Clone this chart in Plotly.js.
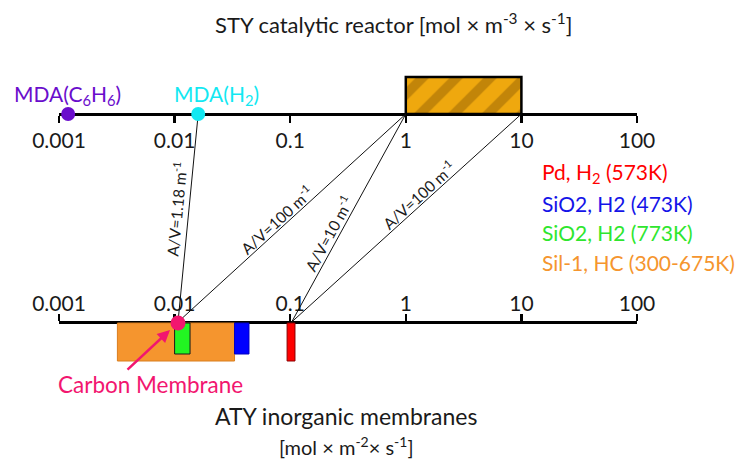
<!DOCTYPE html>
<html>
<head>
<meta charset="utf-8">
<script src="https://cdn.plot.ly/plotly-3.0.1.min.js"></script>
<style>
  html, body { margin: 0; padding: 0; background: #fff; }
  #chart { width: 739px; height: 459px; }
</style>
</head>
<body>
<div id="chart"></div>
<script>
// ---- data ----
const tickVals = [0.001, 0.01, 0.1, 1, 10, 100];
const tickText = ['0.001', '0.01', '0.1', '1', '10', '100'];

// space-time yield of the catalytic reactor [mol m^-3 s^-1]
const reactorSTY = [1, 10];

// MDA points on the STY scale
const mdaNames = ['MDA(C<sub>6</sub>H<sub>6</sub>)', 'MDA(H<sub>2</sub>)'];
const mdaSTY = [0.0012, 0.016];

// area-time yield ranges of inorganic membranes [mol m^-2 s^-1]
const membraneNames = ['Sil-1, HC (300-675K)', 'SiO2, H2 (773K)', 'SiO2, H2 (473K)', 'Pd, H<sub>2</sub> (573K)'];
const membraneLow = [0.0032, 0.010, 0.033, 0.094];
const membraneHigh = [0.033, 0.0136, 0.044, 0.110];

// carbon membrane point on the ATY scale
const carbonName = 'Carbon Membrane';
const carbonATY = 0.0107;

// STY = ATY x A/V connecting lines
const linkSTY = [0.016, 1, 1, 10];
const linkATY = [0.0107, 0.0107, 0.103, 0.103];
const linkAV = ['1.18', '100', '10', '100'];

// ---- layout geometry ----
const W = 739, H = 459;
const X0 = 59, X1 = 637;               // pixel extent of both log scales
const decadePx = (X1 - X0) / 5;
const yTop = 114, yBot = 322;          // rows of the two scales
const FONT = 'Lato, "Open Sans", sans-serif';

const membraneColors = ['#F5952E', '#22F522', '#0000FF', '#FF0000'];
const membraneText = ['#F5952E', '#2EE62E', '#1414E8', '#FF0000'];
const membraneLines = ['#D97E1E', '#1a1a1a', '#0000C0', '#8a0000'];
const membraneDepth = [39, 32, 32, 39];
const legendOrder = [3, 2, 1, 0];
const legendRows = [173, 203, 232, 262];
const mdaColors = ['#6A0DCC', '#12E8F2'];
const mdaShift = [-1, 18];
const labelAt = [0.54, 0.46, 0.40, 0.58];
const labelOff = [13, 9, 10, 9];

const traces = [];

// reactor STY range box
traces.push({
  x: [reactorSTY[0], reactorSTY[1], reactorSTY[1], reactorSTY[0], reactorSTY[0]],
  y: [yTop, yTop, yTop - 37, yTop - 37, yTop],
  xaxis: 'x', yaxis: 'y',
  mode: 'lines', fill: 'toself',
  fillcolor: '#E9A20C',
  fillpattern: { shape: '/', size: 24, solidity: 0.4, fgcolor: '#8C5A02', fgopacity: 0.45, bgcolor: '#EFA80E' },
  line: { color: '#000', width: 2.5 },
  hoverinfo: 'skip', showlegend: false
});

// membrane ATY ranges
membraneLow.forEach((lo, i) => {
  const hi = membraneHigh[i];
  const d = membraneDepth[i];
  traces.push({
    x: [lo, hi, hi, lo, lo],
    y: [yBot + 1, yBot + 1, yBot + d, yBot + d, yBot + 1],
    xaxis: 'x2', yaxis: 'y',
    mode: 'lines', fill: 'toself',
    fillcolor: membraneColors[i],
    line: { color: membraneLines[i], width: 1 },
    name: membraneNames[i], hoverinfo: 'name', showlegend: false
  });
});

// connecting lines STY <-> ATY
linkSTY.forEach((s, i) => {
  traces.push({
    x: [linkATY[i], s], y: [yBot, yTop],
    xaxis: 'x', yaxis: 'y',
    mode: 'lines', line: { color: '#111', width: 1 },
    hoverinfo: 'skip', showlegend: false
  });
});

// MDA points
traces.push({
  x: mdaSTY, y: mdaSTY.map(() => yTop),
  xaxis: 'x', yaxis: 'y',
  mode: 'markers', marker: { size: 14, color: mdaColors },
  text: mdaNames, hoverinfo: 'text', showlegend: false, cliponaxis: false
});

// carbon membrane point
traces.push({
  x: [carbonATY], y: [yBot + 1],
  xaxis: 'x2', yaxis: 'y',
  mode: 'markers', marker: { size: 15, color: '#F2166F' },
  name: carbonName, hoverinfo: 'name', showlegend: false, cliponaxis: false
});

const annotations = [];
const lg = v => Math.log10(v);

// titles
annotations.push({
  xref: 'paper', yref: 'y', x: 393 / W, y: 23, showarrow: false,
  text: 'STY catalytic reactor [mol \u00D7 m<sup>-3</sup> \u00D7 s<sup>-1</sup>]',
  font: { family: FONT, size: 22, color: '#1a1a1a' }
});
annotations.push({
  xref: 'paper', yref: 'y', x: 346 / W, y: 416, showarrow: false,
  text: 'ATY inorganic membranes',
  font: { family: FONT, size: 23, color: '#1a1a1a' }
});
annotations.push({
  xref: 'paper', yref: 'y', x: 346 / W, y: 446, showarrow: false,
  text: '[mol \u00D7 m<sup>-2</sup>\u00D7 s<sup>-1</sup>]',
  font: { family: FONT, size: 20, color: '#1a1a1a' }
});

// MDA labels
mdaNames.forEach((n, i) => {
  annotations.push({
    xref: 'x', yref: 'y', x: lg(mdaSTY[i]), y: 95, xshift: mdaShift[i],
    showarrow: false, text: n,
    font: { family: FONT, size: 21, color: mdaColors[i] }
  });
});

// membrane legend text
legendOrder.forEach((k, r) => {
  annotations.push({
    xref: 'paper', yref: 'y', x: 540 / W, y: legendRows[r], xanchor: 'left',
    showarrow: false, text: membraneNames[k],
    font: { family: FONT, size: 21, color: membraneText[k] }
  });
});

// A/V labels along the connecting lines
linkSTY.forEach((s, i) => {
  const la = lg(linkATY[i]), ls = lg(s);
  const dx = (ls - la) * decadePx, dy = yTop - yBot;
  const len = Math.hypot(dx, dy);
  const ang = Math.atan2(dy, dx) * 180 / Math.PI;
  const nx = dy / len, ny = -dx / len;   // normal pointing up-left
  const t = labelAt[i];
  annotations.push({
    xref: 'x', yref: 'y',
    x: la + t * (ls - la), y: yBot + t * (yTop - yBot),
    xshift: nx * labelOff[i], yshift: -ny * labelOff[i],
    textangle: ang, showarrow: false,
    text: 'A/V=' + linkAV[i] + ' m<sup>-1</sup>',
    font: { family: FONT, size: 15.5, color: '#1a1a1a' }
  });
});

// carbon membrane label and arrow
annotations.push({
  xref: 'x2', yref: 'y', x: lg(carbonATY), y: 384, xshift: -28,
  showarrow: false, text: carbonName,
  font: { family: FONT, size: 22.5, color: '#F2166F' }
});
annotations.push({
  xref: 'x2', yref: 'y', x: lg(carbonATY), y: 330, xshift: -8,
  axref: 'pixel', ayref: 'pixel', ax: -44, ay: 41,
  text: '', showarrow: true, arrowhead: 2, arrowsize: 1, arrowwidth: 2.5,
  arrowcolor: '#F2166F', standoff: 0, startstandoff: 0
});

const axisCommon = {
  type: 'log', range: [-3, 2], domain: [X0 / W, X1 / W],
  tickvals: tickVals, ticktext: tickText,
  ticks: 'outside', ticklen: 7, tickwidth: 2.5, tickcolor: '#000',
  showline: true, linecolor: '#000', linewidth: 2.5,
  showgrid: false, zeroline: false, fixedrange: true,
  tickfont: { family: FONT, size: 21, color: '#1a1a1a' },
  anchor: 'free', layer: 'below traces'
};

const layout = {
  width: W, height: H,
  margin: { l: 0, r: 0, t: 0, b: 0 },
  paper_bgcolor: '#fff', plot_bgcolor: '#fff',
  showlegend: false,
  xaxis: Object.assign({}, axisCommon, { side: 'bottom', position: 1 - yTop / H }),
  xaxis2: Object.assign({}, axisCommon, { side: 'top', position: 1 - yBot / H, overlaying: 'x', ticklabelstandoff: -5 }),
  yaxis: { range: [H, 0], domain: [0, 1], visible: false, fixedrange: true },
  annotations: annotations
};

Plotly.newPlot('chart', traces, layout, { displayModeBar: false, staticPlot: true });
</script>
</body>
</html>
